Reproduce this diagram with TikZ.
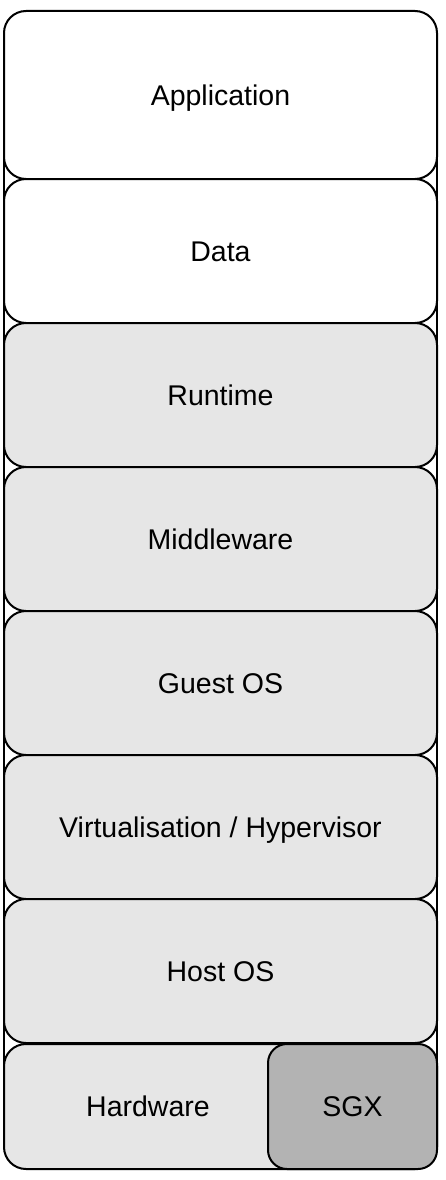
\documentclass[tikz,border=0pt]{standalone}
\usepackage{fontspec}
\setmainfont{Liberation Sans}
\definecolor{layergray}{HTML}{E6E6E6}
\definecolor{sgxgray}{HTML}{B3B3B3}
\tikzset{
  layertext/.style={font=\fontsize{28.5}{34}\selectfont, text height=20.5pt, text depth=0pt},
  layer/.style={rectangle, draw, line width=2pt, rounded corners=22pt,
    minimum width=433pt, minimum height=144pt, inner sep=0pt, layertext},
}
\begin{document}
\begin{tikzpicture}[x=1pt,y=-1pt]
  \useasboundingbox (0,0) rectangle (446,1180);

  % outer frame behind the stack
  \draw[line width=2pt] (4,95) rectangle (437,1106);

  \begin{scope}[every node/.style={layer, fill=layergray}]
    \node[fill=white, minimum height=168pt] (app) at (220.5,95) {Application};
    \node[fill=white] (data)    at (220.5,251) {Data};
    \node (runtime) at (220.5,395) {Runtime};
    \node (mid)     at (220.5,539) {Middleware};
    \node (guest)   at (220.5,683) {Guest OS};
    \node (virt)    at (220.5,827) {Virtualisation / Hypervisor};
    \node (host)    at (220.5,971) {Host OS};
    \node[minimum height=125pt] (hw) at (220.5,1106.5) {};
    \node[fill=sgxgray, minimum width=169pt, minimum height=125pt, rounded corners=19pt] (sgx) at (352.5,1106.5) {SGX};
  \end{scope}

  \node[layertext] (hwtext) at (148,1106) {Hardware};

\end{tikzpicture}
\end{document}
